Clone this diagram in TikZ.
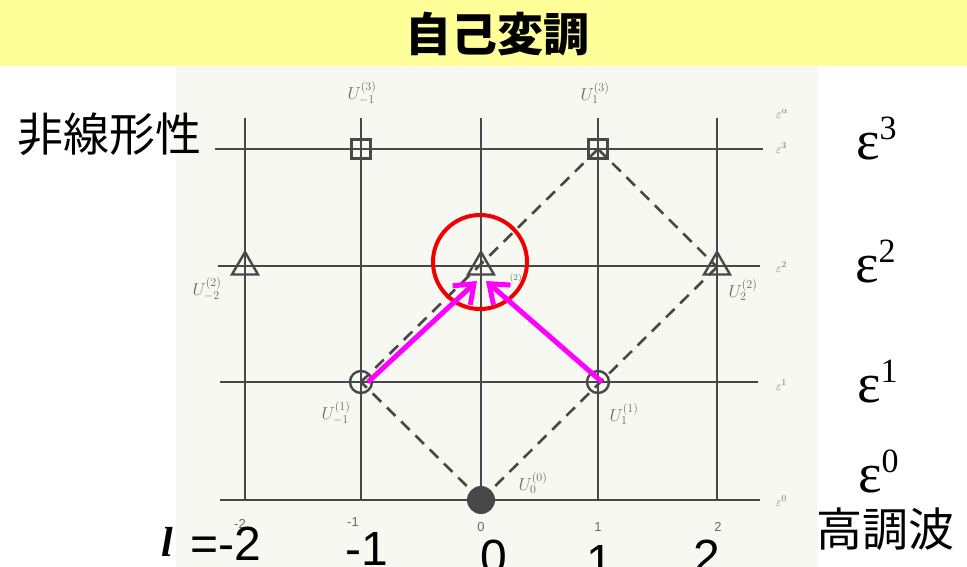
\documentclass[tikz,border=0pt]{standalone}
\usepackage{fontspec}
\setmainfont{Liberation Sans}
\newfontfamily\jpfont{Noto Sans CJK JP}
\newfontfamily\serifL{Liberation Serif}
\usetikzlibrary{arrows.meta,shapes.geometric}
\definecolor{titlebg}{RGB}{255,255,153}
\definecolor{scanbg}{RGB}{248,248,243}
\definecolor{gridc}{RGB}{72,72,72}
\definecolor{labc}{RGB}{105,105,105}
\definecolor{magc}{RGB}{255,0,255}
\definecolor{redc}{RGB}{240,0,0}
\begin{document}
\begin{tikzpicture}[x=1pt,y=-1pt,
  gridline/.style={draw=gridc,line width=2.6pt},
  dashline/.style={draw=gridc,line width=2.6pt,dash pattern=on 12pt off 8pt},
  sqmark/.style={draw=gridc,line width=2.4pt,rectangle,minimum size=19pt,inner sep=0},
  trimark/.style={draw=gridc,line width=2.4pt,regular polygon,regular polygon sides=3,minimum size=30pt,inner sep=0},
  cirmark/.style={draw=gridc,line width=2.4pt,circle,minimum size=22pt,inner sep=0},
  dotmark/.style={fill=gridc,circle,minimum size=28pt,inner sep=0},
  ulab/.style={text=labc,inner sep=0,font=\fontsize{17}{17}\selectfont},
  smalllab/.style={text=labc,inner sep=0,font=\fontsize{13}{13}\selectfont},
  biglab/.style={inner sep=0,anchor=base west,font=\fontsize{48}{48}\selectfont},
  jplab/.style={inner sep=0,anchor=base west,font=\jpfont\fontsize{46}{46}\selectfont},
  epslab/.style={inner sep=0,anchor=base west,font=\serifL\fontsize{56}{56}\selectfont},
  hilite/.style={draw=magc,line width=5pt,-{Straight Barb[length=17pt,width=26pt]}}]
\useasboundingbox (0,0) rectangle (967,567);
% backgrounds
\fill[titlebg] (0,0) rectangle (967,66);
\fill[scanbg] (176,66) rectangle (818,567);
\node[inner sep=0,font=\jpfont\bfseries\fontsize{46}{46}\selectfont] (title) at (497,34) {自己変調};

% grid coordinates
\coordinate (vAt) at (245,118); \coordinate (vAb) at (245,500);
\coordinate (vBt) at (361,118); \coordinate (vBb) at (361,500);
\coordinate (vCt) at (481,118); \coordinate (vCb) at (481,500);
\coordinate (vDt) at (598,118); \coordinate (vDb) at (598,500);
\coordinate (vEt) at (717,118); \coordinate (vEb) at (717,500);
\coordinate (h3l) at (215,149); \coordinate (h3r) at (763,149);
\coordinate (h2l) at (218,266); \coordinate (h2r) at (760,266);
\coordinate (h1l) at (220,382); \coordinate (h1r) at (758,382);
\coordinate (h0l) at (220,500); \coordinate (h0r) at (760,500);
\draw[gridline] (vAt) -- (vAb);
\draw[gridline] (vBt) -- (vBb);
\draw[gridline] (vCt) -- (vCb);
\draw[gridline] (vDt) -- (vDb);
\draw[gridline] (vEt) -- (vEb);
\draw[gridline] (h3l) -- (h3r);
\draw[gridline] (h2l) -- (h2r);
\draw[gridline] (h1l) -- (h1r);
\draw[gridline] (h0l) -- (h0r);

% markers
\node[sqmark] (sqL) at (361,149) {};
\node[sqmark] (sqR) at (598,149) {};
\node[trimark] (trL) at (245,267) {};
\node[trimark] (trC) at (481,267) {};
\node[trimark] (trR) at (717,267) {};
\node[cirmark] (ciL) at (361,382) {};
\node[cirmark] (ciR) at (598,382) {};
\node[dotmark] (dot) at (481,500) {};

% dashed paths
\draw[dashline] (dot.center) -- (ciL.center);
\draw[dashline] (ciL.center) -- (sqR.center);
\draw[dashline] (sqR.center) -- (trR.center);
\draw[dashline] (dot.center) -- (trR.center);

% small labels
\node[ulab] (uL3) at (362,93) {$U^{(3)}_{-1}$};
\node[ulab] (uR3) at (595,93) {$U^{(3)}_{1}$};
\node[ulab] (uL2) at (207,289) {$U^{(2)}_{-2}$};
\node[ulab] (uR2) at (743,290) {$U^{(2)}_{2}$};
\node[ulab] (uL1) at (336,413) {$U^{(1)}_{-1}$};
\node[ulab] (uR1) at (624,414) {$U^{(1)}_{1}$};
\node[ulab] (u00) at (533,483) {$U^{(0)}_{0}$};
\node[smalllab] (uC2) at (516,279) {$^{(2)}$};
\node[smalllab,anchor=west] (eA) at (776,114) {$\varepsilon^{\alpha}$};
\node[smalllab,anchor=west] (e3s) at (776,148) {$\varepsilon^{3}$};
\node[smalllab,anchor=west] (e2s) at (776,267) {$\varepsilon^{2}$};
\node[smalllab,anchor=west] (e1s) at (776,385) {$\varepsilon^{1}$};
\node[smalllab,anchor=west] (e0s) at (776,501) {$\varepsilon^{0}$};
\node[smalllab] (tA) at (240,524) {-2};
\node[smalllab] (tB) at (353,522) {-1};
\node[smalllab] (tC) at (481,527) {0};
\node[smalllab] (tD) at (598,527) {1};
\node[smalllab] (tE) at (718,527) {2};

% red ring and magenta arrows
\node[draw=redc,line width=4pt,circle,minimum size=94pt,inner sep=0] (ring) at (480,262) {};
\coordinate (aLs) at (368,382);
\coordinate (aRs) at (602,382);
\coordinate (aLe) at (477,281);
\coordinate (aRe) at (486,281);
\draw[hilite] (aLs) -- (aLe);
\draw[hilite] (aRs) -- (aRe);

% big labels
\node[jplab] (nl) at (17,152) {非線形性};
\node[jplab] (hc) at (816,546) {高調波};
\node[epslab] (E3) at (856,160) {ε\raisebox{20pt}{\fontsize{34}{34}\selectfont 3}};
\node[epslab] (E2) at (855,282) {ε\raisebox{20pt}{\fontsize{34}{34}\selectfont 2}};
\node[epslab] (E1) at (857,402) {ε\raisebox{20pt}{\fontsize{34}{34}\selectfont 1}};
\node[epslab] (E0) at (858,492) {ε\raisebox{20pt}{\fontsize{34}{34}\selectfont 0}};
\node[inner sep=0,anchor=base west,font=\serifL\bfseries\itshape\fontsize{42}{42}\selectfont] (ell) at (161,556) {l};
\node[biglab] (m2) at (190,560) {=-2};
\node[biglab] (m1) at (345,565) {-1};
\node[biglab,anchor=base] (z0) at (494,573) {0};
\node[biglab,anchor=base] (p1) at (600,578) {1};
\node[biglab,anchor=base] (p2) at (707,573) {2};
\end{tikzpicture}
\end{document}
